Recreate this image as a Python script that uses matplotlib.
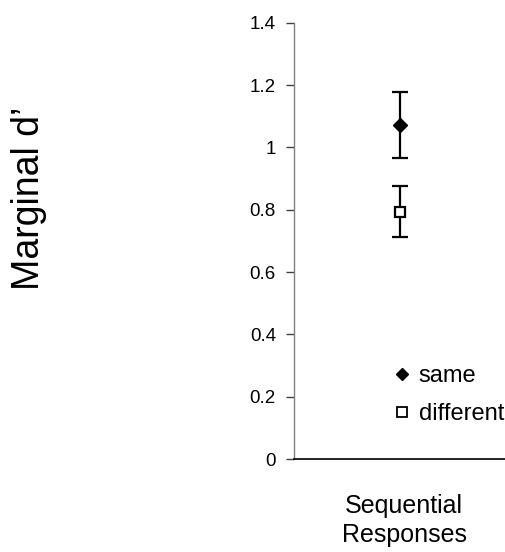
import matplotlib
matplotlib.use("Agg")
import matplotlib.pyplot as plt
from matplotlib.lines import Line2D

plt.rcParams['font.family'] = ['Liberation Sans', 'DejaVu Sans']

categories = ["Sequential\nResponses"]
series_names = ["same", "different"]
means = [1.072, 0.794]
errors = [0.107, 0.083]
yticks = [0, 0.2, 0.4, 0.6, 0.8, 1.0, 1.2, 1.4]
ytick_labels = ["0", "0.2", "0.4", "0.6", "0.8", "1", "1.2", "1.4"]

fig = plt.figure(figsize=(5.06, 5.52), dpi=100)
ax = fig.add_axes([294/506, 1 - 459/552, 212/506, (459 - 22.7)/552])

styles = [dict(marker='D', ms=7.5, mfc='black', mec='black', mew=1),
          dict(marker='s', ms=6.5, mfc='white', mec='black', mew=1.6)]

x = [1]
for name, m, e, st in zip(series_names, means, errors, styles):
    ax.errorbar(x, [m], yerr=[e], fmt='none', ecolor='black', elinewidth=1.6,
                capsize=5.8, capthick=1.6, zorder=2)
    ax.plot(x, [m], linestyle='none', zorder=3, **st)

ax.set_xlim(0, 2)
ax.set_ylim(0, 1.4)
ax.set_xticks([1.04])
ax.set_xticklabels(categories, fontsize=18, linespacing=1.3)
ax.tick_params(axis='x', length=0, pad=25)
ax.set_yticks(yticks)
ax.set_yticklabels(ytick_labels, fontsize=13.5)
ax.tick_params(axis='y', length=6, width=1, color='#404040', pad=7, direction='out')

for s in ['top', 'right']:
    ax.spines[s].set_visible(False)
ax.spines['left'].set_color('#808080')
ax.spines['left'].set_linewidth(1)
ax.spines['bottom'].set_color('black')
ax.spines['bottom'].set_linewidth(1.2)

handles = [Line2D([], [], linestyle='none', marker='D', ms=6, mfc='black', mec='black'),
           Line2D([], [], linestyle='none', marker='s', ms=6.5, mfc='white', mec='black', mew=1.3)]
leg = fig.legend(handles, series_names, loc='upper left',
                 bbox_to_anchor=(381/506, 1 - 353/552), frameon=False, fontsize=17,
                 handlelength=0.8, handletextpad=0.3, labelspacing=0.7, borderpad=0)

fig.text(29/506, 1 - 198/552, "Marginal d\u2019", rotation=90, fontsize=27,
         ha='center', va='center')

fig.savefig("out.png", dpi=100)
